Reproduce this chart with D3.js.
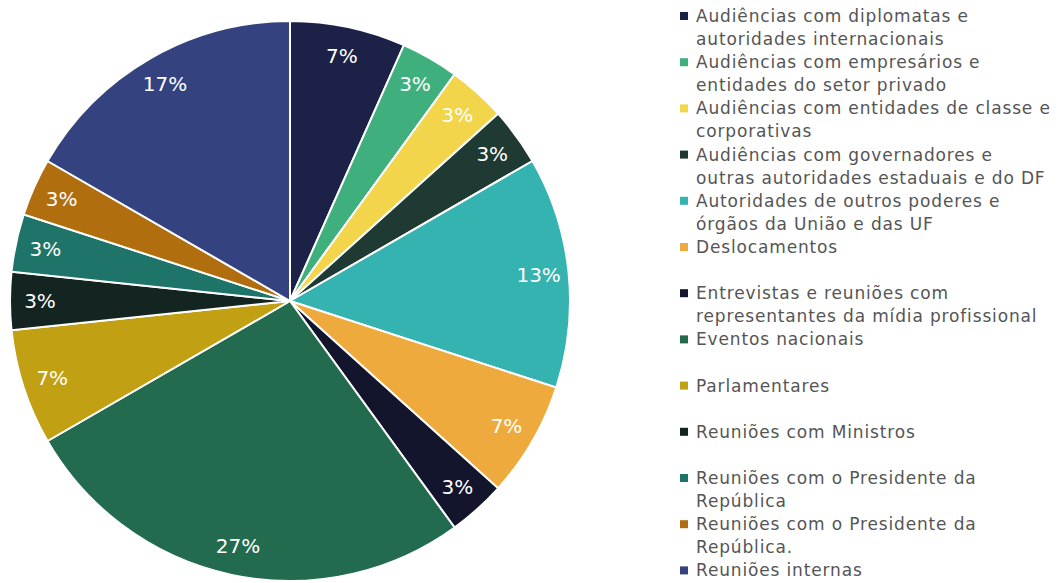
<!DOCTYPE html>
<html>
<head>
<meta charset="utf-8">
<script src="https://cdn.jsdelivr.net/npm/d3@7"></script>
<style>
  body { margin: 0; background: #fff; }
  svg { display: block; }
</style>
</head>
<body>
<div id="container"></div>
<script>
const width = 1064, height = 583;

// categories (legend order = slice order, clockwise from top)
const categories = [
  ["Audiências com diplomatas e", "autoridades internacionais"],
  ["Audiências com empresários e", "entidades do setor privado"],
  ["Audiências com entidades de classe e", "corporativas"],
  ["Audiências com governadores e", "outras autoridades estaduais e do DF"],
  ["Autoridades de outros poderes e", "órgãos da União e das UF"],
  ["Deslocamentos"],
  ["Entrevistas e reuniões com", "representantes da mídia profissional"],
  ["Eventos nacionais"],
  ["Parlamentares"],
  ["Reuniões com Ministros"],
  ["Reuniões com o Presidente da", "República"],
  ["Reuniões com o Presidente da", "República."],
  ["Reuniões internas"]
];
const values = [2, 1, 1, 1, 4, 2, 1, 8, 2, 1, 1, 1, 5];
const colors = ["#1c2147", "#3fb07d", "#f2d54a", "#1f3a33", "#35b3b0", "#eeaa3c",
                "#12152b", "#236b4e", "#c2a013", "#142421", "#1e7469", "#b06e0f", "#34437f"];

const data = values.map((v, i) => ({ label: categories[i], value: v, color: colors[i] }));
const total = d3.sum(values);

const svg = d3.select("#container")
  .append("svg")
  .attr("width", width)
  .attr("height", height);

const cx = 290, cy = 301, r = 280;

const pie = d3.pie().value(d => d.value).sort(null);
const arc = d3.arc().innerRadius(0).outerRadius(r);
const labelArc = d3.arc().innerRadius(250).outerRadius(250);

const g = svg.append("g").attr("transform", `translate(${cx},${cy})`);

g.selectAll("path")
  .data(pie(data))
  .enter()
  .append("path")
  .attr("d", arc)
  .attr("fill", d => d.data.color)
  .attr("stroke", "#fff")
  .attr("stroke-width", 2);

g.selectAll("text.pct")
  .data(pie(data))
  .enter()
  .append("text")
  .attr("class", "pct")
  .attr("transform", d => `translate(${labelArc.centroid(d)})`)
  .attr("text-anchor", "middle")
  .attr("dy", "0.35em")
  .style("font-family", "'DejaVu Sans', sans-serif")
  .style("font-size", "20px")
  .style("fill", "#fff")
  .text(d => Math.round(d.data.value / total * 100) + "%");

/* LEGEND */
const legend = svg.append("g").attr("transform", "translate(680,0)");
const item = legend.selectAll("g.item")
  .data(data)
  .enter()
  .append("g")
  .attr("class", "item")
  .attr("transform", (d, i) => `translate(0,${16 + i * 46.2})`);

item.append("rect")
  .attr("x", 0)
  .attr("y", -4)
  .attr("width", 8)
  .attr("height", 8)
  .attr("fill", d => d.color);

item.append("text")
  .attr("x", 16)
  .attr("y", 0)
  .style("font-family", "'DejaVu Sans', sans-serif")
  .style("font-size", "17px")
  .style("letter-spacing", "0.85px")
  .style("fill", "#555")
  .selectAll("tspan")
  .data(d => d.label)
  .enter()
  .append("tspan")
  .attr("x", 16)
  .attr("y", (d, j) => j * 23)
  .attr("dy", "0.35em")
  .text(d => d);
</script>
</body>
</html>
